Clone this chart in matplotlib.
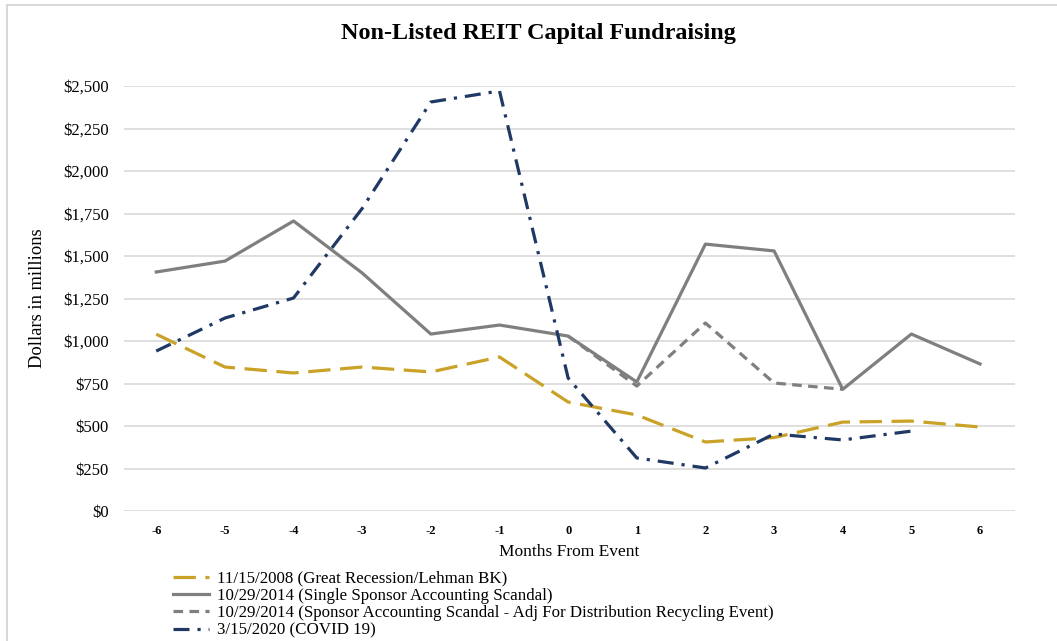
import numpy as np
import matplotlib.pyplot as plt
from matplotlib.ticker import FuncFormatter
from matplotlib.lines import Line2D

months = [-6, -5, -4, -3, -2, -1, 0, 1, 2, 3, 4, 5, 6]

recession_2008 = [1040, 847, 812, 847, 818, 906, 641, 565, 406, 432, 523, 529, 494]
scandal_2014 = [1406, 1470, 1706, 1400, 1041, 1094, 1029, 759, 1570, 1530, 716, 1041, 865]
scandal_2014_adj = [np.nan, np.nan, np.nan, np.nan, np.nan, np.nan, 1029, 735, 1106, 753, 716, np.nan, np.nan]
covid_2020 = [941, 1135, 1253, 1780, 2406, 2471, 782, 312, 253, 453, 418, 470, np.nan]

labels = ['11/15/2008 (Great Recession/Lehman BK)',
          '10/29/2014 (Single Sponsor Accounting Scandal)',
          '10/29/2014 (Sponsor Accounting Scandal - Adj For Distribution Recycling Event)',
          '3/15/2020 (COVID 19)']

plt.rcParams['font.family'] = ['Liberation Serif', 'DejaVu Serif']

fig = plt.figure(figsize=(10.57, 6.41), dpi=100)
ax = fig.add_axes([0.1173, 0.2028, 0.843, 0.663])

ax.plot(months, recession_2008, color='#C9A227', lw=2.3, dashes=(7, 3), label=labels[0])
ax.plot(months, scandal_2014, color='#7F7F7F', lw=2.3, label=labels[1])
ax.plot(months, scandal_2014_adj, color='#7F7F7F', lw=2.3, dashes=(3, 2), label=labels[2])
ax.plot(months, covid_2020, color='#1F3864', lw=2.3, dashes=(5, 2.5, 1, 2.5), label=labels[3])

ax.set_xlim(-6.47, 6.51)
ax.set_ylim(0, 2500)
ax.set_yticks(np.arange(0, 2501, 250))
ax.yaxis.set_major_formatter(FuncFormatter(lambda v, p: '${:,.0f}'.format(v)))
ax.set_xticks(months)
ax.set_xticklabels([str(m) for m in months], fontweight='bold', fontsize=9)
ax.tick_params(axis='y', labelsize=12, length=0, pad=11)
ax.tick_params(axis='x', length=0, pad=10)
ax.grid(axis='y', color='#D9D9D9', lw=1.2)
ax.set_axisbelow(True)
for s in ax.spines.values():
    s.set_visible(False)

fig.text(0.509, 0.9485, 'Non-Listed REIT Capital Fundraising', fontsize=17.4, fontweight='bold',
         ha='center', va='center')
ax.set_ylabel('Dollars in millions', fontsize=13.3)
ax.yaxis.set_label_coords(-0.0877, 0.5)
ax.set_xlabel('Months From Event', fontsize=12.5, labelpad=5)

fig.legend(*ax.get_legend_handles_labels(), loc='upper left', bbox_to_anchor=(0.1637, 0.11),
           frameon=False, fontsize=12.2, handlelength=2.1, labelspacing=0.08, handletextpad=0.5,
           borderpad=0, borderaxespad=0)

# light frame on left and top edges
fig.add_artist(Line2D([0.0066, 0.0066], [0, 0.992], transform=fig.transFigure, color='#D9D9D9', lw=1.5))
fig.add_artist(Line2D([0.0066, 1], [0.992, 0.992], transform=fig.transFigure, color='#D9D9D9', lw=1.5))

fig.savefig('out.png', dpi=100)
